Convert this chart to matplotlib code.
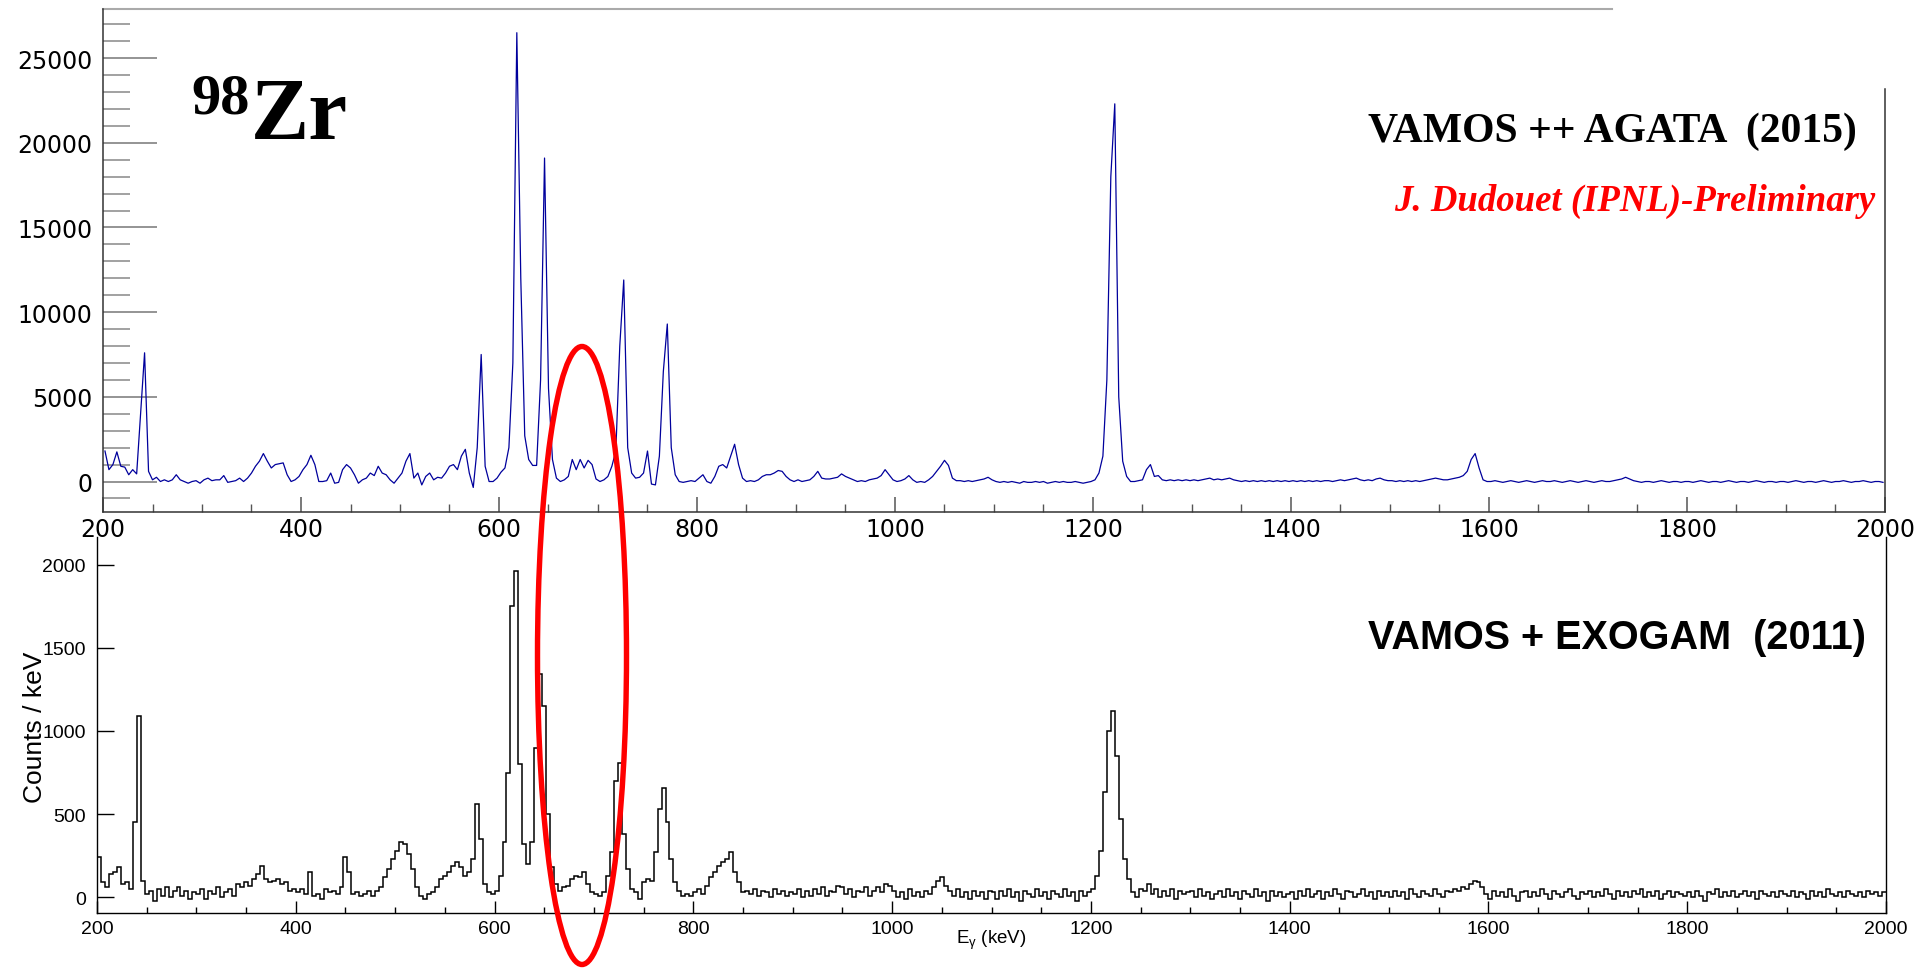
import numpy as np
import matplotlib.pyplot as plt
from matplotlib.patches import Ellipse
from matplotlib.ticker import MultipleLocator

W, H = 1920, 970
plt.rcParams['mathtext.default'] = 'regular'

# gamma energy binning: 4 keV bins from 200 to 2000 keV
bin_edges = np.arange(200, 2001, 4)
bin_centers = bin_edges[:-1] + 2

# VAMOS++ AGATA (2015) spectrum, one row = 100 keV (25 bins)
agata_counts = [
    1800, 700, 1000, 1750, 900, 850, 400, 700, 450, 4000, 7600, 600, 100, 250, 0, 100, 0, 100, 400, 100, 0, -100, 0, 50, -100,
    100, 200, 50, 100, 100, 350, -50, 0, 50, 200, 0, 200, 500, 900, 1200, 1650, 1200, 800, 1000, 1050, 1100, 400, 0, 100, 300,
    700, 1000, 1550, 1000, 0, 0, 50, 500, -100, -50, 700, 1000, 800, 400, -100, 100, 200, 500, 350, 900, 500, 400, 100, -100, 200,
    500, 1200, 1650, 200, 500, -200, 300, 500, 100, 250, 200, 500, 900, 1000, 700, 1500, 1900, 500, -350, 2000, 7500, 900, 0, 0, 200,
    550, 800, 2000, 7000, 26500, 12000, 2700, 1300, 950, 950, 6000, 19100, 5500, 1300, 200, 0, 100, 300, 1300, 700, 1300, 800, 1250, 1000, 150,
    0, 100, 300, 900, 1800, 8000, 11900, 2000, 500, 200, 250, 500, 1800, -150, -200, 1500, 6500, 9300, 2000, 400, 0, -50, 0, 50, 0,
    200, 400, 0, -100, 300, 900, 1000, 800, 1500, 2200, 1000, 200, 0, 50, 0, 100, 300, 400, 400, 500, 650, 600, 300, 100, 0,
    100, 0, 50, 100, 300, 600, 200, 150, 150, 200, 250, 450, 300, 200, 100, 0, 50, 0, 100, 150, 200, 350, 700, 400, 100,
    0, 50, 150, 350, 100, -50, 0, -50, 100, 300, 600, 900, 1250, 950, 200, 50, 50, 0, 50, 0, 50, 100, 150, 250, 100,
    0, -50, 0, -50, 0, -50, -100, 0, -50, -50, 0, -50, 0, -100, -50, 0, -50, 0, -50, -50, 0, -50, -100, -50, 0,
    100, 500, 1500, 6000, 18000, 22300, 5000, 1200, 300, 0, 0, 50, 100, 700, 1000, 300, 350, 100, 50, 100, 50, 100, 50, 100, 50,
    100, 50, 100, 150, 200, 100, 150, 100, 150, 200, 100, 50, 0, 50, 0, 50, 0, 50, 0, 50, 0, 50, 0, 50, 0,
    50, 0, 50, 0, 50, 0, 50, 0, 50, 50, 0, 50, 100, 50, 100, 150, 200, 100, 50, 100, 50, 150, 200, 100, 50,
    50, 0, 50, 0, 50, 0, 50, 0, 50, 100, 150, 200, 150, 100, 100, 150, 200, 250, 350, 600, 1300, 1650, 800, 100, 0,
    0, 50, 0, -50, 0, 50, 0, -50, 0, 50, 0, -50, 0, 50, 0, 0, 50, 0, -50, 0, 50, 0, -50, 0, 50,
    0, -50, 0, 50, 0, 0, 50, 100, 150, 250, 150, 50, 0, -50, 0, 0, -50, 0, 50, 0, -50, 0, 0, -50, 0,
    0, -50, 0, 50, 0, -50, 0, 0, -50, 0, 50, 0, -50, 0, 0, -50, 0, 50, 0, -50, 0, 0, -50, 0, 0,
    -50, 0, 50, 0, -50, 0, 0, -50, 0, 50, 0, -50, 0, 0, 50, 0, -50, 0, 0, 50, 0, -50, 0, 0, -50,
]

# VAMOS + EXOGAM (2011) spectrum, counts / keV, one row = 100 keV
exogam_counts = [
    240, 90, 60, 140, 150, 180, 80, 90, 50, 450, 1090, 100, 20, 40, -20, 50, 10, 60, 0, 40, 60, 10, 40, -10, 30,
    20, 50, -10, 40, 20, 60, 0, 30, 50, 10, 80, 60, 90, 70, 110, 140, 190, 110, 90, 100, 110, 80, 90, 40, 50,
    30, 50, 20, 150, 10, 20, -10, 50, 30, 40, 20, 60, 240, 150, 20, 30, 10, 20, 40, 10, 40, 60, 120, 170, 230,
    280, 330, 320, 260, 170, 60, 10, -10, 20, 30, 60, 110, 130, 150, 190, 210, 180, 130, 150, 230, 560, 350, 80, 30, 20,
    40, 130, 330, 750, 1750, 1960, 800, 320, 200, 330, 900, 1340, 1150, 500, 180, 80, 40, 60, 70, 110, 130, 120, 150, 80, 30,
    20, 10, 30, 130, 270, 700, 810, 380, 170, 50, 30, -10, 90, 110, 100, 270, 530, 660, 450, 230, 90, 40, 10, 20, 10,
    30, 50, 20, 70, 120, 150, 190, 210, 230, 270, 150, 90, 30, 40, 20, 50, 10, 40, 30, 0, 50, 20, 40, 10, 30,
    20, 50, 0, 40, 10, 50, 20, 60, 10, 40, 30, 70, 60, 20, 50, 0, 40, 30, 60, 10, 40, 60, 30, 80, 70,
    40, 0, 30, -10, 50, 10, 30, 0, 40, 20, 60, 100, 120, 70, 40, 10, 50, 0, 30, -10, 40, 10, 30, -10, 40,
    30, -10, 40, 10, 50, 0, 30, -20, 40, 20, 0, 50, 10, 30, -10, 40, 20, 0, 50, 10, 30, -20, 40, 10, 30,
    50, 130, 280, 630, 1000, 1120, 850, 470, 230, 110, 30, 0, 50, 40, 80, 20, 50, 0, 40, 10, 50, -10, 40, 20, 30,
    40, 0, 50, 10, 30, -10, 20, 40, 0, 50, 10, 30, -10, 40, 20, 0, 50, 10, 30, -20, 40, 10, 30, 0, 20,
    30, -10, 40, 10, 50, 0, 20, 40, -10, 30, 10, 50, 20, -10, 40, 30, 0, 20, 50, 10, 30, -10, 40, 10, 30,
    0, 40, 10, 30, -10, 50, 20, 0, 40, 20, 10, 50, 20, 0, 40, 30, 50, 40, 60, 50, 80, 100, 90, 60, 20,
    -10, 40, 10, 30, 0, 50, 10, -20, 30, 40, 0, 30, 10, 50, 20, -10, 40, 20, 0, 30, 50, 10, -10, 30, 20,
    40, 0, 30, 10, 50, 20, -10, 40, 10, 30, 0, 40, 20, 50, 0, 30, 10, 40, -10, 20, 40, 0, 30, 20, 10,
    30, 0, 40, 10, -20, 30, 20, 50, 0, 30, 10, 40, 0, 20, 40, 10, 30, -10, 40, 20, 10, 30, 0, 40, 20,
    10, 40, 0, 30, 20, -10, 40, 10, 30, 0, 50, 20, 10, 30, 0, 40, 20, 10, 30, 0, 40, 20, 30, 10, 30,
]

fig = plt.figure(figsize=(W / 100, H / 100), dpi=100)

## top panel: AGATA
ax1 = fig.add_axes([103 / W, 1 - 513 / H, 1782 / W, 503 / H])
ax1.plot(bin_centers, agata_counts, color='#00009c', lw=0.9)
ax1.set_xlim(200, 2000)
ax1.set_ylim(-1800, 27900)
ax1.xaxis.set_major_locator(MultipleLocator(200))
ax1.xaxis.set_minor_locator(MultipleLocator(50))
ax1.yaxis.set_major_locator(MultipleLocator(5000))
ax1.yaxis.set_minor_locator(MultipleLocator(1000))
ax1.tick_params(axis='y', which='major', direction='in', length=39, width=1.1, color='#777777', pad=7.5, labelsize=17)
ax1.tick_params(axis='y', which='minor', direction='in', length=19.5, width=1.1, color='#888888')
ax1.tick_params(axis='x', which='major', direction='in', length=11, width=1.1, color='#555555', pad=3.5, labelsize=17)
ax1.tick_params(axis='x', which='minor', direction='in', length=5.5, width=1.0, color='#555555')
ax1.spines['top'].set_visible(False)
ax1.spines['right'].set_visible(False)
for s in ['left', 'bottom']:
    ax1.spines[s].set_color('#333333')
    ax1.spines[s].set_linewidth(1.1)
# frame pieces that are left in the picture
ax1.plot([0, 0.847], [1, 1], transform=ax1.transAxes, color='#aaaaaa', lw=1.5, clip_on=False)
ax1.plot([1, 1], [0, 0.841], transform=ax1.transAxes, color='#333333', lw=1.1, clip_on=False)

## bottom panel: EXOGAM
ax2 = fig.add_axes([97 / W, 1 - 914 / H, 1789 / W, 376 / H])
ax2.stairs(exogam_counts, bin_edges, color='black', lw=1.1, baseline=None)
ax2.set_xlim(200, 2000)
ax2.set_ylim(-95, 2167)
ax2.xaxis.set_major_locator(MultipleLocator(200))
ax2.xaxis.set_minor_locator(MultipleLocator(50))
ax2.yaxis.set_major_locator(MultipleLocator(500))
ax2.tick_params(axis='y', which='major', direction='in', length=12.5, width=1.0, pad=8, labelsize=14)
ax2.tick_params(axis='x', which='major', direction='in', length=8.4, width=1.0, pad=5, labelsize=14)
ax2.tick_params(axis='x', which='minor', direction='in', length=4.3, width=1.0)
for lab in ax2.get_xticklabels() + ax2.get_yticklabels():
    lab.set_family('Liberation Sans')
ax2.spines['top'].set_visible(False)
for s in ['left', 'bottom', 'right']:
    ax2.spines[s].set_linewidth(1.0)
ax2.set_ylabel('Counts / keV', fontsize=19, family='Liberation Sans')
ax2.yaxis.set_label_coords(-0.028, 0.497)
ax2.set_xlabel(r'E$_{\gamma}$ (keV)', fontsize=13.5, family='Liberation Sans')
ax2.xaxis.set_label_coords(0.5, -0.04)

## labels on the figure
fig.text(251 / W, 1 - 139.5 / H, 'Zr', fontsize=63, fontweight='bold', family='Liberation Serif',
         ha='left', va='baseline')
fig.text(250 / W, 1 - 114 / H, '98', fontsize=42, fontweight='bold', family='Liberation Serif',
         ha='right', va='baseline')
fig.text(1857 / W, 1 - 142 / H, 'VAMOS ++ AGATA  (2015)', fontsize=30, fontweight='bold',
         family='Liberation Serif', ha='right', va='baseline')
fig.text(1875 / W, 1 - 211 / H, 'J. Dudouet (IPNL)-Preliminary', fontsize=26.5, fontweight='bold',
         style='italic', family='Liberation Serif', color='red', ha='right', va='baseline')
fig.text(1866 / W, 1 - 649 / H, 'VAMOS + EXOGAM  (2011)', fontsize=28.5, fontweight='bold',
         family='Liberation Sans', ha='right', va='baseline')

# red ellipse around the 680 keV region
fig.patches.append(Ellipse((582 / W, 1 - 656.5 / H), 89 / W, 618 / H, transform=fig.transFigure,
                           fill=False, edgecolor='red', lw=3.9, zorder=10))

plt.savefig('out.png', dpi=100)
